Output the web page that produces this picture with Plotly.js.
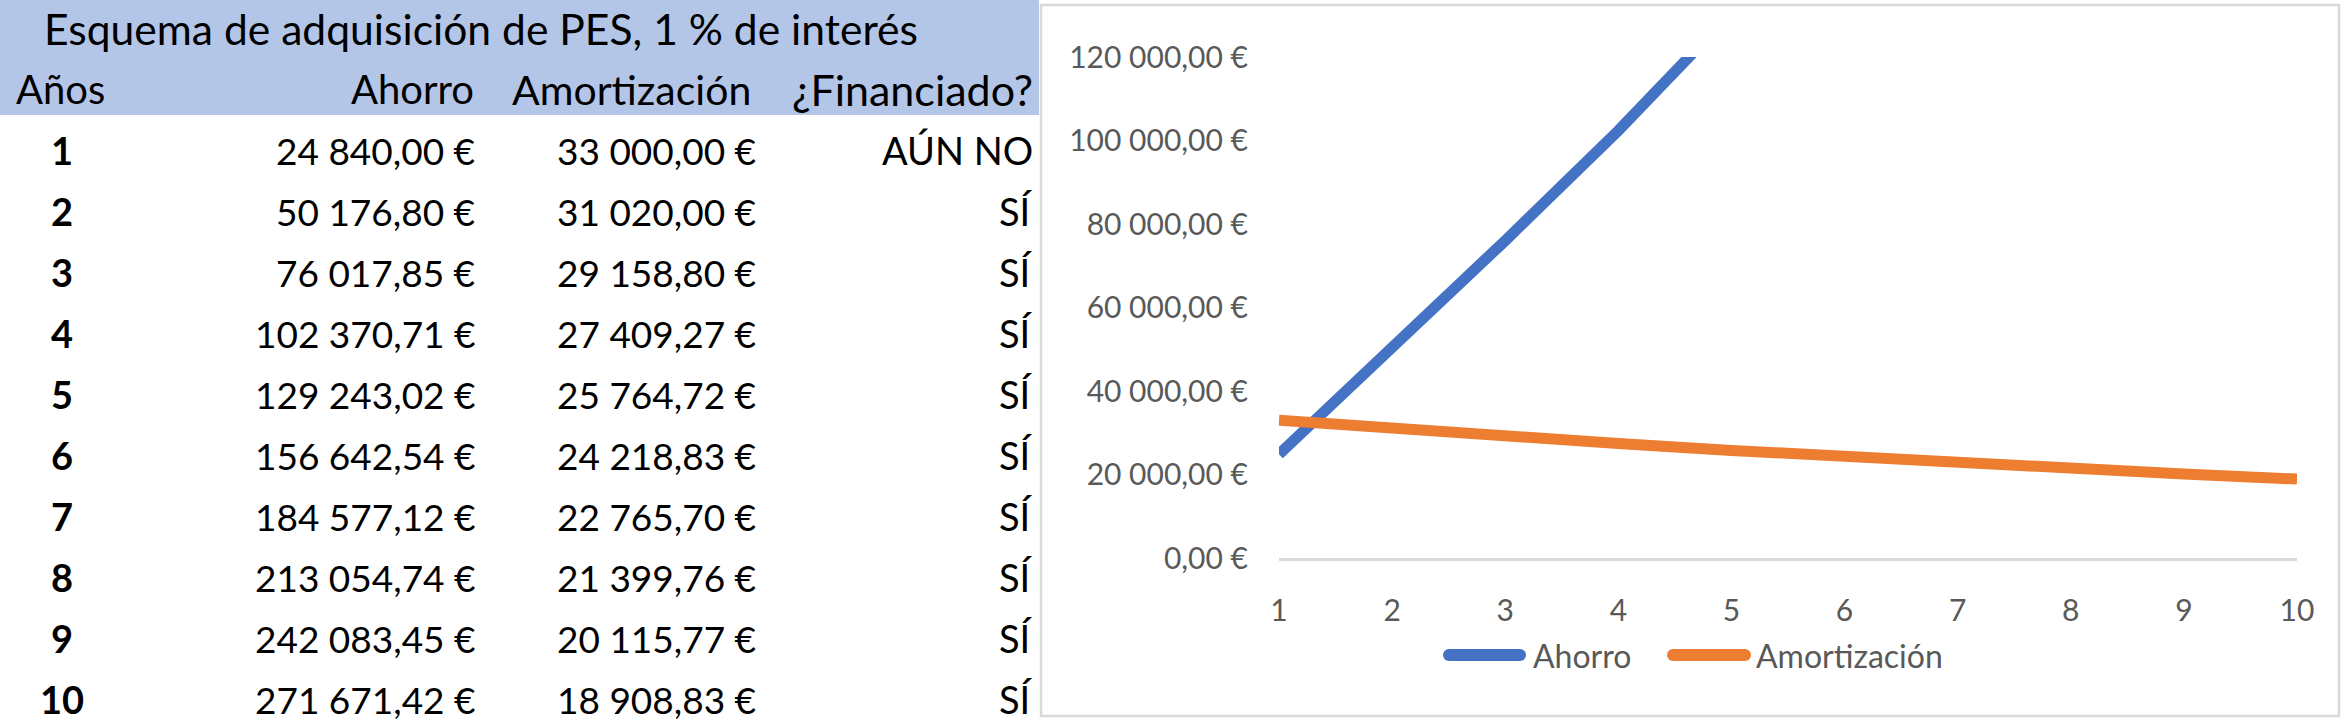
<!DOCTYPE html>
<html>
<head>
<meta charset="utf-8">
<script src="https://cdn.plot.ly/plotly-3.0.1.min.js"></script>
<style>
  html, body { margin: 0; padding: 0; background: #ffffff; }
  #chart { width: 2347px; height: 721px; }
</style>
</head>
<body>
<div id="chart"></div>
<script>
// ---------------- data ----------------
const years = [1, 2, 3, 4, 5, 6, 7, 8, 9, 10];
const ahorro = [24840.00, 50176.80, 76017.85, 102370.71, 129243.02, 156642.54, 184577.12, 213054.74, 242083.45, 271671.42];
const amortizacion = [33000.00, 31020.00, 29158.80, 27409.27, 25764.72, 24218.83, 22765.70, 21399.76, 20115.77, 18908.83];
const financiado = ['AÚN NO', 'SÍ', 'SÍ', 'SÍ', 'SÍ', 'SÍ', 'SÍ', 'SÍ', 'SÍ', 'SÍ'];
const tableTitle = 'Esquema de adquisición de PES, 1 % de interés';
const headers = ['Años', 'Ahorro', 'Amortización', '¿Financiado?'];
const seriesNames = ['Ahorro', 'Amortización'];
const yTickVals = [0, 20000, 40000, 60000, 80000, 100000, 120000];
const yTickText = ['0,00 €', '20 000,00 €', '40 000,00 €', '60 000,00 €', '80 000,00 €', '100 000,00 €', '120 000,00 €'];
const xTickText = ['1', '2', '3', '4', '5', '6', '7', '8', '9', '10'];

// ---------------- layout helpers ----------------
const W = 2347, H = 721;
const px = x => x / W;
const py = y => 1 - y / H;
const FONT = 'Lato, "Open Sans", sans-serif';
const BLUE = '#4472C4', ORANGE = '#ED7D31', GREY = '#595959';

function euro(v) {
  const parts = v.toFixed(2).split('.');
  return parts[0].replace(/\B(?=(\d{3})+(?!\d))/g, ' ') + ',' + parts[1] + ' €';
}

// table column anchors (pixels)
const col = { yearC: 62, yearHeadL: 14, ahorroR: 477, amortR: 758, finR: 1035, titleL: 42 };

const annotations = [];
// title row (sheet row -1) and header row (sheet row 0)
annotations.push({ text: tableTitle, xref: 'paper', yref: 'y2', x: px(col.titleL), y: -1, xanchor: 'left', yanchor: 'middle', align: 'left', showarrow: false, font: { family: FONT, size: 42.6, color: '#000' } });
annotations.push({ text: headers[0], xref: 'paper', yref: 'y2', x: px(col.yearHeadL), y: 0, xanchor: 'left', yanchor: 'middle', showarrow: false, font: { family: FONT, size: 40, color: '#000' } });
annotations.push({ text: headers[1], xref: 'paper', yref: 'y2', x: px(col.ahorroR - 1), y: 0, xanchor: 'right', yanchor: 'middle', showarrow: false, font: { family: FONT, size: 40, color: '#000' } });
annotations.push({ text: headers[2], xref: 'paper', yref: 'y2', x: px(col.amortR - 5), y: 0, xanchor: 'right', yanchor: 'middle', showarrow: false, font: { family: FONT, size: 41, color: '#000' } });
annotations.push({ text: headers[3], xref: 'paper', yref: 'y2', x: px(col.finR), y: 0, xanchor: 'right', yanchor: 'middle', showarrow: false, font: { family: FONT, size: 43, color: '#000' } });

years.forEach((yr, i) => {
  annotations.push({ text: String(yr), xref: 'paper', yref: 'y2', x: px(col.yearC), y: yr, xanchor: 'center', yanchor: 'middle', showarrow: false, font: { family: FONT, size: 38, color: '#000', weight: 'bold' } });
  annotations.push({ text: euro(ahorro[i]), xref: 'paper', yref: 'y2', x: px(col.ahorroR), y: yr, xanchor: 'right', yanchor: 'middle', showarrow: false, font: { family: FONT, size: 37, color: '#000' } });
  annotations.push({ text: euro(amortizacion[i]), xref: 'paper', yref: 'y2', x: px(col.amortR), y: yr, xanchor: 'right', yanchor: 'middle', showarrow: false, font: { family: FONT, size: 37, color: '#000' } });
  annotations.push({ text: financiado[i], xref: 'paper', yref: 'y2', x: px(col.finR), y: yr, xanchor: 'right', yanchor: 'middle', showarrow: false, font: { family: FONT, size: 38, color: '#000' } });
});

// custom legend
const legendItems = [
  { name: seriesNames[0], color: BLUE, x0: 1443, x1: 1526, tx: 1531 },
  { name: seriesNames[1], color: ORANGE, x0: 1667, x1: 1751, tx: 1754 }
];
const legY = 655, legR = 6;
const shapes = [
  // header band
  { type: 'rect', xref: 'paper', yref: 'paper', x0: 0, x1: px(1039), y0: py(115), y1: 1, fillcolor: '#B4C6E7', line: { width: 0 }, layer: 'below' },
  // chart frame
  { type: 'rect', xref: 'paper', yref: 'paper', x0: px(1041), x1: px(2339), y0: py(716), y1: py(5), fillcolor: 'rgba(0,0,0,0)', line: { color: '#D9D9D9', width: 2.5 }, layer: 'below' }
];
legendItems.forEach(it => {
  shapes.push({ type: 'line', xref: 'paper', yref: 'paper', x0: px(it.x0 + legR), x1: px(it.x1 - legR), y0: py(legY), y1: py(legY), line: { color: it.color, width: 12 } });
  [it.x0 + legR, it.x1 - legR].forEach(cx => {
    shapes.push({ type: 'circle', xref: 'paper', yref: 'paper', xsizemode: 'pixel', ysizemode: 'pixel', xanchor: px(cx), yanchor: py(legY), x0: -legR, x1: legR, y0: -legR, y1: legR, fillcolor: it.color, line: { width: 0 } });
  });
  annotations.push({ text: it.name, xref: 'paper', yref: 'paper', x: px(it.tx), y: py(legY), xanchor: 'left', yanchor: 'middle', showarrow: false, font: { family: FONT, size: 32, color: GREY } });
});

const traces = [
  { type: 'scatter', mode: 'lines', name: seriesNames[0], x: years, y: ahorro, line: { color: BLUE, width: 11 }, xaxis: 'x', yaxis: 'y', hoverinfo: 'skip' },
  { type: 'scatter', mode: 'lines', name: seriesNames[1], x: years, y: amortizacion, line: { color: ORANGE, width: 11 }, xaxis: 'x', yaxis: 'y', hoverinfo: 'skip' }
];

const layout = {
  width: W, height: H,
  margin: { l: 0, r: 0, t: 0, b: 0, pad: 0 },
  paper_bgcolor: '#ffffff', plot_bgcolor: 'rgba(0,0,0,0)',
  showlegend: false,
  font: { family: FONT, color: GREY },
  xaxis: {
    domain: [px(1279), px(2297)], range: [1, 10], anchor: 'y',
    tickmode: 'array', tickvals: years, ticktext: xTickText,
    showgrid: false, zeroline: false, showline: true, linecolor: '#D9D9D9', linewidth: 3,
    ticks: '', ticklabelstandoff: 24, tickfont: { family: FONT, size: 30, color: GREY }, fixedrange: true
  },
  yaxis: {
    domain: [py(558), py(57)], range: [0, 120000], anchor: 'x',
    tickmode: 'array', tickvals: yTickVals, ticktext: yTickText,
    showgrid: false, zeroline: false, showline: false,
    ticks: '', ticklabelstandoff: 30, tickfont: { family: FONT, size: 30, color: GREY }, fixedrange: true
  },
  xaxis2: { domain: [0, 1], range: [0, 1], anchor: 'y2', visible: false, fixedrange: true },
  yaxis2: { domain: [0, 1], range: [1 + (H - 150) / 61, 1 - 150 / 61], anchor: 'x2', visible: false, fixedrange: true },
  shapes: shapes,
  annotations: annotations
};

Plotly.newPlot('chart', traces, layout, { staticPlot: true, displayModeBar: false });
</script>
</body>
</html>
